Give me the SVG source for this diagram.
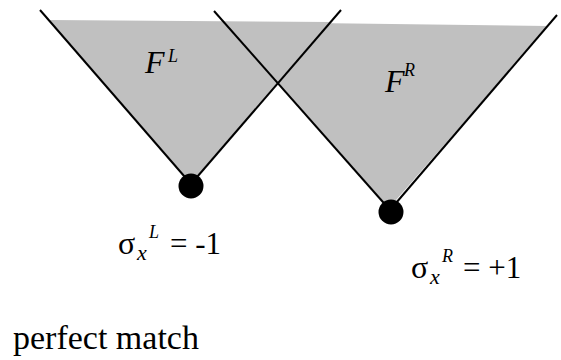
<svg xmlns="http://www.w3.org/2000/svg" width="561" height="360" viewBox="0 0 561 360">
<style>
.fill{fill:#c0c0c0;stroke:none}
.ln{stroke:#000;stroke-width:2;fill:none}
.dot{fill:#000}
text{font-family:'Liberation Serif','Times New Roman','DejaVu Serif',serif;fill:#000}
.i{font-style:italic}
</style>
<rect width="561" height="360" fill="#fff"/>
<g id="cone-left-fill"><polygon class="fill" points="49,20 331,22 191,183"/></g>
<g id="cone-right-fill"><polygon class="fill" points="224,22 548,26 389,208"/></g>
<g id="connectors">
<line class="ln" x1="40" y1="10" x2="191" y2="184"/>
<line class="ln" x1="191" y1="184" x2="341" y2="10"/>
<line class="ln" x1="214" y1="11" x2="390" y2="210"/>
<line class="ln" x1="390" y1="210" x2="557" y2="15"/>
</g>
<g id="node-left">
<circle class="dot" cx="191" cy="186" r="12.5"/>
<text class="i" x="145" y="73" font-size="32">F</text>
<text class="i" x="168" y="62" font-size="18">L</text>
</g>
<g id="node-right">
<circle class="dot" cx="391" cy="212" r="12.5"/>
<text class="i" x="385" y="92" font-size="32">F</text>
<text class="i" x="404" y="76" font-size="18">R</text>
</g>
<g id="label-left">
<text x="118" y="254" font-size="32">σ</text>
<text class="i" x="137" y="260" font-size="22">x</text>
<text class="i" x="149" y="238" font-size="18">L</text>
<text x="170" y="254" font-size="31">= -1</text>
</g>
<g id="label-right">
<text x="411" y="278" font-size="32">σ</text>
<text class="i" x="430" y="284" font-size="22">x</text>
<text class="i" x="442" y="262" font-size="18">R</text>
<text x="463" y="278" font-size="31">= +1</text>
</g>
<text x="13" y="349" font-size="34">perfect match</text>
</svg>
